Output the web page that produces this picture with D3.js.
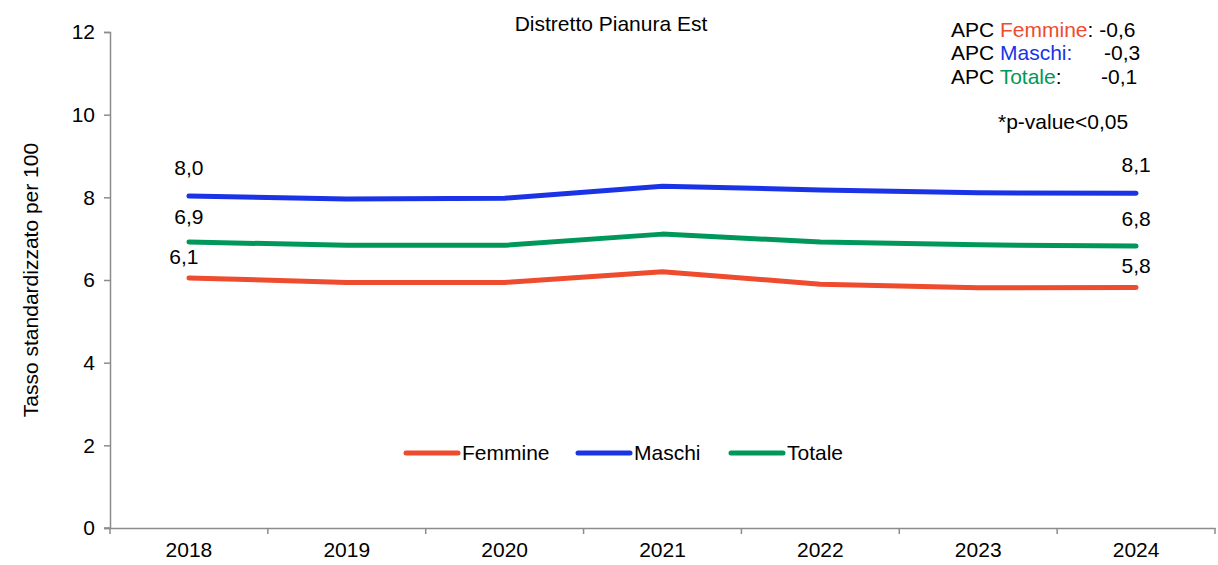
<!DOCTYPE html>
<html><head><meta charset="utf-8">
<script src="https://cdn.jsdelivr.net/npm/d3@7"></script>
<style>body{margin:0;background:#fff}svg{display:block}text{font-family:"Liberation Sans",Arial,sans-serif;fill:#000}</style>
</head><body>
<svg id="c" width="1218" height="565"></svg>
<script>
const years = ["2018","2019","2020","2021","2022","2023","2024"];
const femmine = [6.05, 5.94, 5.94, 6.20, 5.90, 5.81, 5.82];
const maschi = [8.03, 7.96, 7.98, 8.27, 8.18, 8.11, 8.10];
const totale = [6.92, 6.84, 6.84, 7.11, 6.92, 6.85, 6.82];
const yTicks = [0, 2, 4, 6, 8, 10, 12];
const seriesNames = ["Femmine", "Maschi", "Totale"];
const seriesColors = ["#EE4B2F", "#1A33E6", "#00985A"];
const endLabels = [["6,1","5,8"],["8,0","8,1"],["6,9","6,8"]];
const apcValues = ["-0,6","-0,3","-0,1"];

const FS = "21px";
const svg = d3.select("#c");
const x = d3.scaleBand().domain(years).range([110, 1215]);
const y = d3.scaleLinear().domain([0, 12]).range([528, 32]);
const axisColor = "#8c8c8c";

const ya = svg.append("g").attr("transform","translate(110,0)")
  .call(d3.axisLeft(y).tickValues(yTicks).tickSize(6).tickPadding(9).tickFormat(d3.format("d")));
ya.selectAll("text").style("font-size",FS);
const xa = svg.append("g").attr("transform","translate(0,528)")
  .call(d3.axisBottom(x).tickSize(0).tickPadding(14));
xa.selectAll("text").style("font-size",FS);
const bounds = years.map(d => x(d)).concat([x.range()[1]]);
svg.append("g").selectAll("line").data(bounds).join("line")
  .attr("x1", d=>d).attr("x2", d=>d).attr("y1",528).attr("y2",534);
svg.append("line").attr("x1",104).attr("x2",110).attr("y1",528).attr("y2",528);
svg.selectAll(".domain").attr("stroke", axisColor).attr("stroke-width",1.5);
svg.selectAll("line").attr("stroke", axisColor).attr("stroke-width",1.5);

svg.append("text").attr("transform","translate(38,280) rotate(-90)")
  .attr("text-anchor","middle").style("font-size",FS).text("Tasso standardizzato per 100");
svg.append("text").attr("x",611).attr("y",31).attr("text-anchor","middle")
  .style("font-size",FS).text("Distretto Pianura Est");

const data = [femmine, maschi, totale];
const cx = d => x(d) + x.bandwidth()/2;
const line = d3.line().x((d,i)=>cx(years[i])).y(d=>y(d));
data.forEach((s,k) => {
  svg.append("path").datum(s).attr("d", line).attr("fill","none")
    .attr("stroke", seriesColors[k]).attr("stroke-width",5)
    .attr("stroke-linecap","round").attr("stroke-linejoin","round");
});
const labelOff = [[-14,-14],[-21,-21],[-18,-20]];
data.forEach((s,k) => {
  [0, years.length-1].forEach((i,j) => {
    svg.append("text").attr("x", cx(years[i]) + (k===0 && j===0 ? -5 : 0))
      .attr("y", y(s[i]) + labelOff[k][j]).attr("text-anchor","middle")
      .style("font-size",FS).text(endLabels[k][j]);
  });
});

const legX = [404, 576, 729];
seriesNames.forEach((n,k) => {
  svg.append("line").attr("x1",legX[k]+2).attr("x2",legX[k]+54).attr("y1",453).attr("y2",453)
    .attr("stroke",seriesColors[k]).attr("stroke-width",5).attr("stroke-linecap","round");
  svg.append("text").attr("x",legX[k]+58).attr("y",460).style("font-size",FS).text(n);
});

const apcY = [37, 60, 84];
seriesNames.forEach((n,k) => {
  const t = svg.append("text").attr("x",951).attr("y",apcY[k]).style("font-size",FS);
  t.append("tspan").text("APC ");
  t.append("tspan").style("fill",seriesColors[k]).text(n);
  if (k===1) t.append("tspan").style("fill",seriesColors[k]).text(":");
  else t.append("tspan").text(":");
  if (k===0) t.append("tspan").text(" " + apcValues[0]);
});
const apcValX = [null, 1104, 1101];
[1,2].forEach(k => {
  svg.append("text").attr("x",apcValX[k]).attr("y",apcY[k]).style("font-size",FS).text(apcValues[k]);
});
svg.append("text").attr("x",998).attr("y",129).style("font-size",FS).text("*p-value<0,05");
</script>
</body></html>
